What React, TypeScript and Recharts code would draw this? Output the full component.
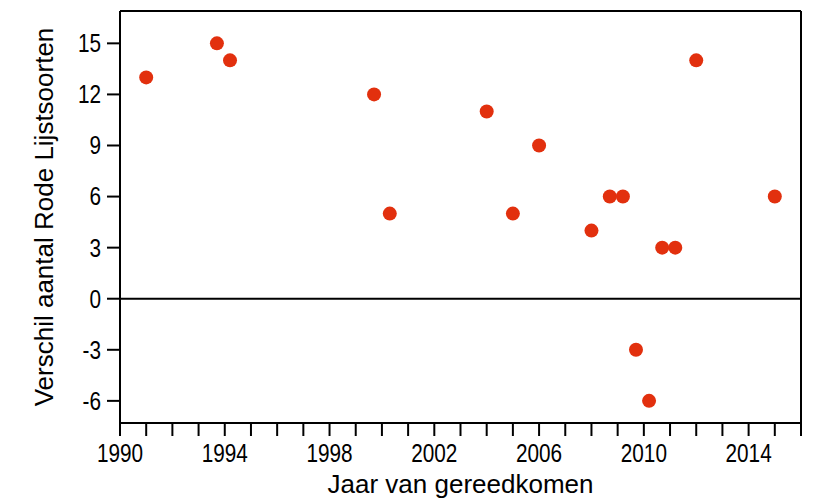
import React from "react";
import {
  ScatterChart,
  Scatter,
  XAxis,
  YAxis,
  ReferenceLine,
} from "recharts";

// jaar van gereedkomen en verschil in aantal Rode Lijstsoorten
const years = [
  1991.0, 1993.7, 1994.2, 1999.7, 2000.3, 2004.0, 2005.0, 2006.0, 2008.0,
  2008.7, 2009.2, 2009.7, 2010.2, 2010.7, 2011.2, 2012.0, 2015.0,
];
const diffs = [13, 15, 14, 12, 5, 11, 5, 9, 4, 6, 6, -3, -6, 3, 3, 14, 6];

const xTicks = Array.from({ length: 27 }, (_, i) => 1990 + i);
const yTicks = [-6, -3, 0, 3, 6, 9, 12, 15];

const data = years.map((x, i) => ({ x, y: diffs[i] }));

const X_MIN = 1990;
const X_MAX = 2016;
const Y_MIN = -7.3;
const Y_MAX = 16.9;

// tick labels use a narrow face; no narrow font installed, so squeeze
const FONT = "'Liberation Sans', Arial, sans-serif";
const SQUEEZE = 0.83;

const Dot = (props: any) => (
  <circle cx={props.cx} cy={props.cy} r={7} fill="#e2300e" />
);

const XTick = (props: any) => {
  const { x, y, payload } = props;
  const v = payload.value;
  if ((v - 1990) % 4 !== 0 || v >= 2016) return <g />;
  return (
    <text
      transform={`translate(${x},${y}) scale(${SQUEEZE},1)`}
      textAnchor="middle"
      dy="0.71em"
      fontFamily={FONT}
      fontSize={25}
      fill="#000"
    >
      {v}
    </text>
  );
};

const YTick = (props: any) => {
  const { x, y, payload } = props;
  return (
    <text
      transform={`translate(${x},${y}) scale(${SQUEEZE},1)`}
      textAnchor="end"
      dy="0.355em"
      fontFamily={FONT}
      fontSize={25}
      fill="#000"
    >
      {payload.value}
    </text>
  );
};

const XTitle = (props: any) => {
  const { x, width } = props.viewBox;
  return (
    <text
      x={x + width / 2}
      y={493}
      textAnchor="middle"
      fontFamily={FONT}
      fontSize={26}
      fill="#000"
    >
      Jaar van gereedkomen
    </text>
  );
};

const YTitle = (props: any) => {
  const { y, height } = props.viewBox;
  return (
    <text
      transform={`translate(53,${y + height / 2}) rotate(-90)`}
      textAnchor="middle"
      fontFamily={FONT}
      fontSize={26}
      fill="#000"
    >
      Verschil aantal Rode Lijstsoorten
    </text>
  );
};

export default function App() {
  return (
    <div style={{ position: "absolute", left: 0, top: 0 }}>
      <ScatterChart
        width={819}
        height={503}
        margin={{ top: 11, right: 18, bottom: 0, left: 0 }}
      >
        <XAxis
          type="number"
          dataKey="x"
          domain={[X_MIN, X_MAX]}
          ticks={xTicks}
          interval={0}
          tickSize={13}
          tickMargin={8}
          tick={XTick}
          axisLine={{ stroke: "#000", strokeWidth: 2 }}
          tickLine={{ stroke: "#000", strokeWidth: 2 }}
          height={80}
          allowDataOverflow
          label={{ content: XTitle }}
        />
        <YAxis
          type="number"
          dataKey="y"
          domain={[Y_MIN, Y_MAX]}
          ticks={yTicks}
          interval={0}
          tickSize={13}
          tickMargin={6}
          tick={YTick}
          axisLine={{ stroke: "#000", strokeWidth: 2 }}
          tickLine={{ stroke: "#000", strokeWidth: 2 }}
          width={120}
          allowDataOverflow
          label={{ content: YTitle }}
        />
        <ReferenceLine y={Y_MAX} stroke="#000" strokeWidth={2} />
        <ReferenceLine x={X_MAX} stroke="#000" strokeWidth={2} />
        <ReferenceLine y={0} stroke="#000" strokeWidth={2} />
        <Scatter data={data} shape={Dot} isAnimationActive={false} />
      </ScatterChart>
    </div>
  );
}
